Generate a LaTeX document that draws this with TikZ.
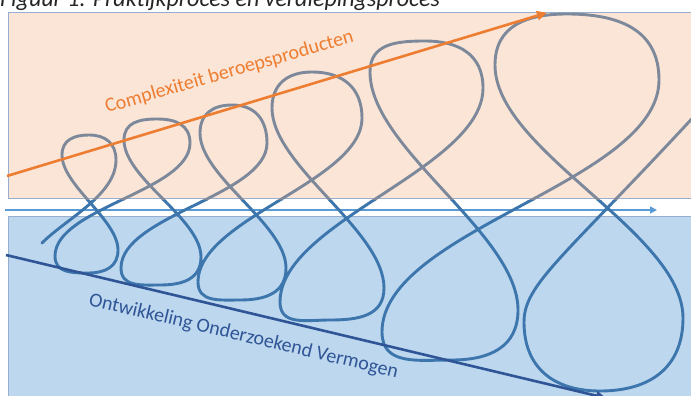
\documentclass[tikz,border=0pt]{standalone}
\usepackage{fontspec}
\setmainfont{Carlito}
\usetikzlibrary{arrows.meta}
\definecolor{peachbg}{HTML}{FBE5D6}
\definecolor{bluebg}{HTML}{BDD7EE}
\definecolor{framecol}{HTML}{97AED0}
\definecolor{orangecol}{HTML}{ED7D31}
\definecolor{deepblue}{HTML}{2F5597}
\definecolor{midblue}{HTML}{5B9BD5}
\definecolor{loopgray}{HTML}{7D899B}
\definecolor{loopblue}{HTML}{3D76AC}

% the chain of loops, drawn twice (top part and bottom part)
\newcommand\coilpath{(S) to[out=45,in=-90,looseness=0.8] (R1)
  \foreach \k/\n in {1/2,2/3,3/4,4/5,5/6} {
    to[out=90,in=0,looparc] (T\k) to[out=180,in=90,looparc] (L\k) to[out=-90,in=90,cross] (r\k)
    to[out=-90,in=0,looparc] (b\k) to[out=180,in=-90,looparc] (l\k) to[out=90,in=-90,cross] (R\n)
  }
  to[out=90,in=0,looparc] (T6) to[out=180,in=90,looparc] (L6) to[out=-90,in=90,cross] (r6)
  to[out=-90,in=0,looparc] (b6) to[out=180,in=-90,looparc] (l6)
  .. controls +(90:42) and +(228:250) .. (E)}

\begin{document}
\begin{tikzpicture}[
  x=1pt, y=1pt,
  panel/.style={draw=framecol, line width=1pt},
  trend/.style={line width=2.6pt, -{Triangle[length=10pt,width=9pt]}},
  coil/.style={line width=2.9pt, line cap=round},
  looparc/.style={looseness=1.15},
  cross/.style={looseness=0.7},
  trendtext/.style={font=\fontsize{20}{24}\selectfont, anchor=base west, inner sep=0pt}
]
  \useasboundingbox (0,0) rectangle (691,-396);
  \fill[white] (0,0) rectangle (691,-396);

  % Panels
  \filldraw[panel, fill=peachbg] (8,-12.7) rectangle (700,-198);
  \filldraw[panel, fill=bluebg] (8,-216) rectangle (700,-410);

  % Time line
  \coordinate (midS) at (5,-210);
  \coordinate (midE) at (657,-210);
  \draw[midblue, line width=1.6pt, -{Triangle[length=7pt,width=7pt]}] (midS) -- (midE);

  % Loop points: R right, T top, L left (upper loops); r, b, l (lower loops)
  \coordinate (S) at (42,-243);
  \coordinate (R1) at (116,-160); \coordinate (T1) at (89,-135);  \coordinate (L1) at (62,-155);
  \coordinate (r1) at (118,-250); \coordinate (b1) at (88,-273);  \coordinate (l1) at (55,-256);
  \coordinate (R2) at (190,-143); \coordinate (T2) at (157,-119); \coordinate (L2) at (124,-140);
  \coordinate (r2) at (201,-257); \coordinate (b2) at (160,-285); \coordinate (l2) at (121,-268);
  \coordinate (R3) at (267,-143); \coordinate (T3) at (232,-105); \coordinate (L3) at (200,-133);
  \coordinate (r3) at (286,-268); \coordinate (b3) at (240,-300); \coordinate (l3) at (198,-282);
  \coordinate (R4) at (362,-118); \coordinate (T4) at (312,-72);  \coordinate (L4) at (272,-108);
  \coordinate (r4) at (384,-288); \coordinate (b4) at (330,-320); \coordinate (l4) at (280,-302);
  \coordinate (R5) at (483,-88);  \coordinate (T5) at (425,-41);  \coordinate (L5) at (370,-72);
  \coordinate (r5) at (518,-310); \coordinate (b5) at (452,-360); \coordinate (l5) at (382,-332);
  \coordinate (R6) at (659,-80);  \coordinate (T6) at (567,-14);  \coordinate (L6) at (495,-65);
  \coordinate (r6) at (683,-318); \coordinate (b6) at (600,-391); \coordinate (l6) at (524,-322);
  \coordinate (E) at (740,-66);

  \begin{scope}
    \clip (0,0) rectangle (691,-200);
    \draw[coil, loopgray] \coilpath;
  \end{scope}
  \begin{scope}
    \clip (0,-200) rectangle (691,-396);
    \draw[coil, loopblue] \coilpath;
  \end{scope}

  % Trends
  \coordinate (cplxS) at (7,-176);
  \coordinate (cplxE) at (547,-12.7);
  \coordinate (ontwS) at (6,-255);
  \coordinate (ontwE) at (606,-398);
  \draw[trend, orangecol] (cplxS) -- (cplxE);
  \draw[trend, deepblue] (ontwS) -- (ontwE);

  % Labels
  \node[trendtext, orangecol, rotate=16] (cplxText) at (107,-113) {Complexiteit beroepsproducten};
  \node[trendtext, deepblue, rotate=-13.3] (ontwText) at (88,-305) {Ontwikkeling Onderzoekend Vermogen};
  \node[anchor=base west, inner sep=0pt, text=black!85,
        font=\itshape\fontsize{24}{28}\selectfont] (caption) at (0,-7)
        {Figuur 1. Praktijkproces en verdiepingsproces};
\end{tikzpicture}
\end{document}
